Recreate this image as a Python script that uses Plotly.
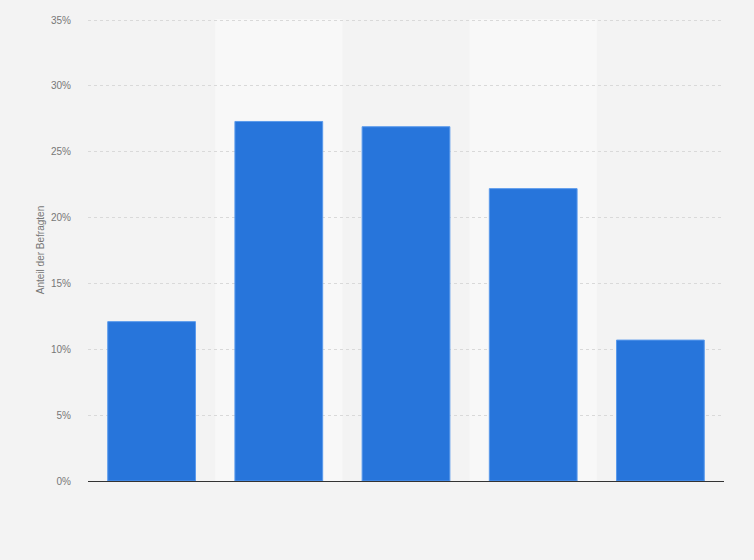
import plotly.graph_objects as go

categories = ["Kategorie 1", "Kategorie 2", "Kategorie 3", "Kategorie 4", "Kategorie 5"]
values = [12.1, 27.3, 26.9, 22.2, 10.7]
y_ticks = [0, 5, 10, 15, 20, 25, 30, 35]
y_tick_labels = [f"{v}%" for v in y_ticks]

fig = go.Figure()
fig.add_trace(go.Bar(
    x=categories, y=values,
    marker=dict(color="#2775db", line=dict(color="#5a9aec", width=1)),
    width=0.69,
))

shapes = []
for i in range(len(categories)):
    if i % 2 == 1:
        shapes.append(dict(type="rect", xref="x", yref="paper",
                           x0=i - 0.5, x1=i + 0.5, y0=0, y1=1,
                           fillcolor="#f8f8f8", line=dict(width=0), layer="below"))
fig.update_layout(
    width=754, height=560,
    margin=dict(l=88, r=30, t=19, b=79),
    paper_bgcolor="#f3f3f3", plot_bgcolor="#f3f3f3",
    shapes=shapes,
    showlegend=False,
    font=dict(family="Liberation Sans, Arial, sans-serif", size=10, color="#777777"),
    xaxis=dict(showticklabels=False, showgrid=False, showline=True,
               linecolor="#333333", linewidth=1.2, range=[-0.5, 4.5], ticks=""),
    yaxis=dict(range=[0, 35.08], tickvals=y_ticks, ticktext=y_tick_labels,
               showgrid=True, gridcolor="#d9d9d9", griddash="dot", gridwidth=1,
               zeroline=False, ticks="", ticklabelstandoff=16,
               title=dict(text="Anteil der Befragten", standoff=4,
                          font=dict(size=10, color="#777777"))),
)
fig.write_html("out.html", config={"displayModeBar": False},
               post_script="document.body.style.margin='0px';")
